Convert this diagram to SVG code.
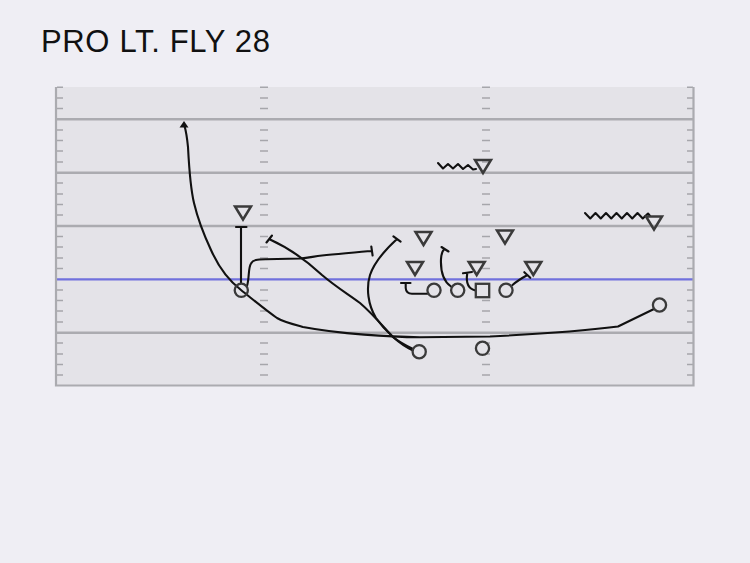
<svg xmlns="http://www.w3.org/2000/svg" width="750" height="563" viewBox="0 0 750 563">
<defs>
<style>
.yard{stroke:#ABABB0;stroke-width:2.5;fill:none}
.tick{stroke:#A6A6AB;stroke-width:1.4;fill:none}
.border{stroke:#ABABB0;stroke-width:2.2;fill:none}
.los{stroke:#7171DD;stroke-width:2.2;fill:none}
.off{fill:#E4E3E8;stroke:#3A3A3A;stroke-width:2.3}
.def{fill:none;stroke:#3A3A3A;stroke-width:2.5;stroke-linejoin:miter}
.route{fill:none;stroke:#111;stroke-width:2.1;stroke-linecap:round;stroke-linejoin:round}
.title{font-family:"Liberation Sans",Arial,sans-serif;font-size:31px;fill:#111}
</style>
<polygon id="tri" points="-8,-6.5 8,-6.5 0,6.5"/>
</defs>
<rect x="0" y="0" width="750" height="563" fill="#EFEEF4"/>
<text class="title" x="41" y="52" textLength="229" lengthAdjust="spacing">PRO LT. FLY 28</text>
<g id="field">
<rect x="55" y="87" width="639" height="299" fill="#E4E3E8"/>
<path class="tick" d="M57,87.3h6M260,87.3h8M482,87.3h8M687,87.3h6
M57,98h6M260,98h8M482,98h8M687,98h6
M57,108.5h6M260,108.5h8M482,108.5h8M687,108.5h6
M57,130h6M260,130h8M482,130h8M687,130h6
M57,140.5h6M260,140.5h8M482,140.5h8M687,140.5h6
M57,151h6M260,151h8M482,151h8M687,151h6
M57,162h6M260,162h8M482,162h8M687,162h6
M57,183h6M260,183h8M482,183h8M687,183h6
M57,194h6M260,194h8M482,194h8M687,194h6
M57,204.5h6M260,204.5h8M482,204.5h8M687,204.5h6
M57,215h6M260,215h8M482,215h8M687,215h6
M57,236.5h6M260,236.5h8M482,236.5h8M687,236.5h6
M57,247h6M260,247h8M482,247h8M687,247h6
M57,258h6M260,258h8M482,258h8M687,258h6
M57,268.5h6M260,268.5h8M482,268.5h8M687,268.5h6
M57,290h6M260,290h8M482,290h8M687,290h6
M57,300.5h6M260,300.5h8M482,300.5h8M687,300.5h6
M57,311h6M260,311h8M482,311h8M687,311h6
M57,322h6M260,322h8M482,322h8M687,322h6
M57,343h6M260,343h8M482,343h8M687,343h6
M57,354h6M260,354h8M482,354h8M687,354h6
M57,364.5h6M260,364.5h8M482,364.5h8M687,364.5h6
M57,375h6M260,375h8M482,375h8M687,375h6"/>
<path class="yard" d="M55,119.3H694M55,172.7H694M55,226H694M55,332.7H694"/>
<path class="los" d="M55,279.3H694"/>
<path class="border" d="M56,87V385.5H693.5V87"/>
</g>
<g id="connectors">
<path class="route" d="M654,309 L618,326.5 C590,330 540,334 490,336.5 L420,337.3 C390,337 340,334 303,327 C292,324 284,322 277,318 C268,312 256,302 241,290 C228,280 219,268 211,250 C204,235 198,220 194,203 C190,186 189,166 188,147 C187,137 186,131 184.5,126"/>
<polygon points="184,121 179.5,127.5 188.5,127.5" fill="#111"/>
<path class="route" d="M241,283 V227 M236,227 H246.5"/>
<path class="route" d="M247,286 C249.5,278 248,268 251,263.5 C253,259.5 258,259.5 266,259.3 L300,258.5 C310,258 314,256 322,255.5 C340,254 358,252 372,251 M371.3,246.5 L372.6,255.5"/>
<path class="route" d="M413,349 C405,345 398,341 393,337 C385,329 374,315 360,303 C348,294 336,287 322,275 C308,262 291,249 270,239.5 M266.5,242.5 L272,235.5"/>
<path class="route" d="M413,350.5 C400,345 385,331 376,318 C368,305 366,288 370,275 C374,263 385,250 397,239 M393.4,236.3 L400.6,241.7"/>
<path class="route" d="M427.5,293.8 H412 C408,293.8 406,292 405.7,288 V283 M401,283 H410.5"/>
<path class="route" d="M451,286.5 C443,281 440.5,270 441,259 C441.3,254 442,251 444.5,249 M441.5,247 L448.5,251.5"/>
<path class="route" d="M475.5,290.5 C468.5,289 465.5,284 467.3,273 M463,273.3 L472,272"/>
<path class="route" d="M512.5,285 C517,281 522,278 527.5,275 M524.3,272.2 L530.3,277.8"/>
<polyline class="route" points="438,163 443,168.5 448,164 453,168.5 458,164 463,169 468,165 473,169.5 476,169"/>
<polyline class="route" points="585,213 590.25,218.5 595.5,213 600.75,218.5 606,213 611.25,218.5 616.5,213 621.75,218.5 627,213 632.25,218.5 637.5,213 642.75,218.5 648,213.5 650,216"/>
</g>
<g id="defense">
<use href="#tri" class="def" x="243" y="213"/>
<use href="#tri" class="def" x="483" y="166.5"/>
<use href="#tri" class="def" x="654" y="223"/>
<use href="#tri" class="def" x="423.5" y="238.5"/>
<use href="#tri" class="def" x="505" y="237"/>
<use href="#tri" class="def" x="415" y="268.5"/>
<use href="#tri" class="def" x="476.7" y="268.5"/>
<use href="#tri" class="def" x="533.3" y="268.5"/>
</g>
<g id="offense">
<g id="se"><circle cx="241.3" cy="290.3" r="6.6" fill="none" stroke="#3A3A3A" stroke-width="2.3"/></g>
<g id="lt"><circle class="off" cx="434" cy="290.3" r="6.6"/></g>
<g id="lg"><circle class="off" cx="457.7" cy="290.3" r="6.6"/></g>
<g id="c"><rect class="off" x="475.8" y="283.8" width="13.4" height="13.4"/></g>
<g id="rg"><circle class="off" cx="506" cy="290.3" r="6.6"/></g>
<g id="hb"><circle class="off" cx="419.2" cy="351.7" r="6.6"/></g>
<g id="qb"><circle class="off" cx="482.5" cy="348.3" r="6.6"/></g>
<g id="fl"><circle class="off" cx="659.5" cy="305" r="6.6"/></g>
</g>
</svg>
